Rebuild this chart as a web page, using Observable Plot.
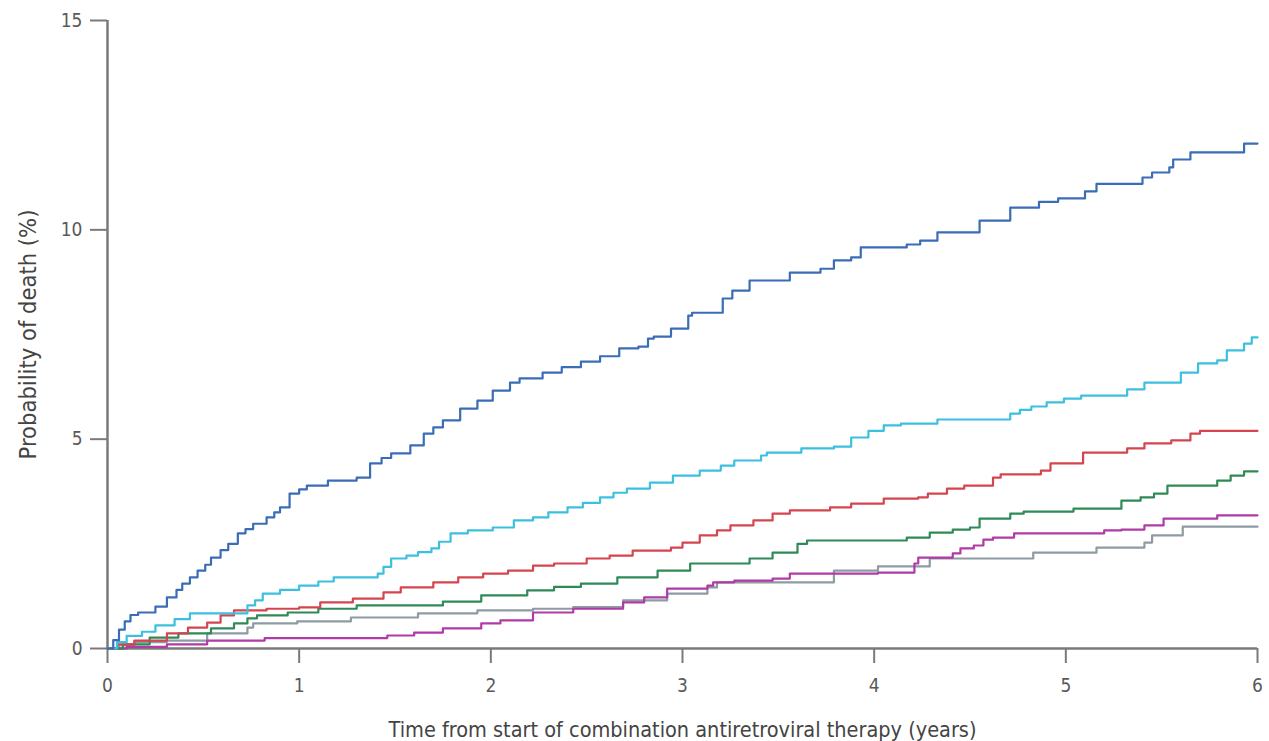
<!DOCTYPE html>
<html>
<head>
<meta charset="utf-8">
<script src="https://cdn.jsdelivr.net/npm/d3@7"></script>
<script src="https://cdn.jsdelivr.net/npm/@observablehq/plot@0.6"></script>
<style>
  html, body { margin: 0; padding: 0; background: #fff; }
  #chart { width: 1269px; height: 741px; overflow: hidden; }
</style>
</head>
<body>
<div id="chart"></div>
<script>
// ---- Data ----
const seriesNames = ["Group F", "Group E", "Group D", "Group C", "Group B", "Group A"];
const seriesColors = ["#8d9ba3", "#b03aa6", "#2f8a57", "#d5454f", "#3cc0df", "#3a6db5"];

const blueT = [0,0.03,0.06,0.09,0.12,0.16,0.25,0.31,0.36,0.39,0.43,0.47,0.51,0.54,0.59,0.63,0.68,0.72,0.76,0.83,0.87,0.9,0.95,1.0,1.04,1.15,1.3,1.37,1.43,1.48,1.58,1.65,1.7,1.75,1.84,1.93,2.01,2.1,2.15,2.27,2.37,2.47,2.57,2.67,2.77,2.82,2.85,2.94,3.03,3.05,3.21,3.26,3.35,3.56,3.72,3.79,3.88,3.93,4.17,4.24,4.33,4.55,4.71,4.86,4.96,5.10,5.16,5.40,5.45,5.54,5.56,5.65,5.93,6.0];
const blueP = [0,0.2,0.45,0.65,0.8,0.86,1.0,1.22,1.4,1.55,1.7,1.86,2.0,2.17,2.35,2.5,2.75,2.85,2.98,3.13,3.25,3.37,3.7,3.8,3.89,4.01,4.08,4.42,4.55,4.66,4.85,5.13,5.28,5.45,5.73,5.92,6.16,6.35,6.45,6.59,6.72,6.85,6.98,7.17,7.21,7.4,7.45,7.64,7.95,8.02,8.36,8.55,8.79,8.98,9.07,9.27,9.34,9.58,9.65,9.74,9.94,10.22,10.53,10.67,10.75,10.92,11.1,11.25,11.37,11.49,11.68,11.85,12.06,12.06];

const cyanT = [0,0.05,0.1,0.18,0.25,0.35,0.43,0.73,0.77,0.81,0.9,1.0,1.1,1.18,1.41,1.44,1.48,1.56,1.62,1.69,1.73,1.79,1.88,2.01,2.12,2.22,2.3,2.4,2.48,2.57,2.64,2.71,2.83,2.95,3.09,3.2,3.27,3.41,3.44,3.62,3.79,3.88,3.97,4.05,4.14,4.33,4.71,4.76,4.82,4.9,4.99,5.08,5.32,5.41,5.6,5.69,5.79,5.84,5.93,5.97,6.0];
const cyanP = [0,0.15,0.3,0.4,0.55,0.7,0.84,1.03,1.15,1.31,1.4,1.5,1.6,1.7,1.79,1.95,2.15,2.22,2.3,2.39,2.55,2.75,2.82,2.89,3.06,3.13,3.25,3.37,3.48,3.61,3.72,3.82,3.96,4.13,4.25,4.37,4.49,4.61,4.68,4.78,4.82,5.04,5.2,5.33,5.37,5.47,5.61,5.7,5.78,5.88,5.97,6.04,6.19,6.35,6.59,6.81,6.88,7.12,7.28,7.43,7.43];

const redT = [0,0.05,0.14,0.31,0.42,0.52,0.59,0.66,0.83,1.0,1.11,1.28,1.44,1.53,1.7,1.83,1.96,2.09,2.22,2.33,2.5,2.62,2.74,2.94,3.0,3.09,3.18,3.25,3.37,3.47,3.56,3.77,3.88,4.05,4.23,4.28,4.38,4.47,4.62,4.66,4.87,4.92,5.09,5.32,5.41,5.55,5.65,5.7,6.0];
const redP = [0,0.1,0.19,0.36,0.5,0.62,0.79,0.91,0.95,0.98,1.1,1.19,1.34,1.46,1.58,1.7,1.79,1.86,1.98,2.03,2.15,2.22,2.34,2.41,2.53,2.7,2.82,2.94,3.06,3.22,3.3,3.37,3.46,3.58,3.61,3.7,3.82,3.89,4.08,4.16,4.25,4.42,4.68,4.78,4.9,4.97,5.13,5.2,5.2];

const greenT = [0,0.08,0.22,0.37,0.54,0.66,0.73,0.78,0.94,1.1,1.3,1.75,1.95,2.19,2.33,2.47,2.66,2.87,3.04,3.35,3.47,3.6,3.65,4.17,4.29,4.41,4.5,4.55,4.71,4.78,5.04,5.29,5.39,5.46,5.53,5.79,5.86,5.93,6.0];
const greenP = [0,0.1,0.26,0.36,0.48,0.6,0.72,0.79,0.86,0.95,1.03,1.12,1.27,1.39,1.47,1.55,1.7,1.86,2.03,2.15,2.29,2.5,2.58,2.65,2.77,2.84,2.89,3.1,3.22,3.27,3.34,3.53,3.61,3.7,3.89,4.01,4.13,4.23,4.23];

const magentaT = [0,0.1,0.31,0.52,0.82,1.46,1.6,1.75,1.95,2.05,2.22,2.43,2.69,2.8,2.92,3.13,3.16,3.27,3.47,3.56,4.02,4.21,4.23,4.41,4.45,4.52,4.57,4.62,4.73,5.2,5.29,5.41,5.51,5.79,6.0];
const magentaP = [0,0.04,0.1,0.19,0.25,0.31,0.38,0.48,0.6,0.67,0.86,0.95,1.1,1.22,1.43,1.5,1.58,1.62,1.67,1.79,1.81,2.03,2.17,2.27,2.39,2.46,2.6,2.65,2.75,2.82,2.84,2.94,3.1,3.18,3.18];

const grayT = [0,0.06,0.14,0.31,0.52,0.73,0.76,0.99,1.27,1.62,1.93,2.22,2.43,2.69,2.92,3.13,3.18,3.79,4.02,4.29,4.83,5.16,5.41,5.45,5.61,6.0];
const grayP = [0,0.08,0.15,0.19,0.36,0.5,0.6,0.65,0.74,0.84,0.91,0.95,0.99,1.15,1.31,1.46,1.58,1.86,1.96,2.15,2.29,2.41,2.53,2.7,2.91,2.91];

const xTicks = [0, 1, 2, 3, 4, 5, 6];
const yTicks = [0, 5, 10, 15];

const xLabel = "Time from start of combination antiretroviral therapy (years)";
const yLabel = "Probability of death (%)";

// ---- Build table ----
const seriesData = [
  [grayT, grayP],
  [magentaT, magentaP],
  [greenT, greenP],
  [redT, redP],
  [cyanT, cyanP],
  [blueT, blueP]
];
const rows = [];
seriesNames.forEach((name, k) => {
  const [T, P] = seriesData[k];
  T.forEach((t, i) => rows.push({series: name, t, p: P[i]}));
});

const FONT = "'Liberation Sans Narrow', 'DejaVu Sans Condensed', 'Roboto', sans-serif";
const axisColor = "#7a7a7a";
const textColor = "#5a5a5a";

const chart = Plot.plot({
  width: 1269,
  height: 741,
  marginLeft: 107,
  marginRight: 12,
  marginTop: 20,
  marginBottom: 93,
  style: {fontFamily: FONT, fontSize: "19px", background: "#fff", overflow: "visible"},
  x: {domain: [0, 6]},
  y: {domain: [0, 15]},
  color: {type: "ordinal", domain: seriesNames, range: seriesColors},
  marks: [
    Plot.axisY({ticks: yTicks, tickSize: 17, tickPadding: 8, stroke: axisColor, strokeWidth: 2, fill: textColor,
      fontSize: 19, tickFormat: d3.format("d"), label: null}),
    Plot.axisX({ticks: xTicks, tickSize: 15, tickPadding: 15, stroke: axisColor, strokeWidth: 2, fill: textColor,
      fontSize: 19, tickFormat: d3.format("d"), label: null}),
    Plot.text([xLabel], {frameAnchor: "bottom", dy: 88, lineAnchor: "bottom", fill: "#444", fontSize: 21.5, text: d => d}),
    Plot.text([yLabel], {frameAnchor: "left", dx: -88, lineAnchor: "top", textAnchor: "middle", rotate: -90, fill: "#444", fontSize: 23.5, text: d => d}),
    Plot.ruleX([0], {y1: 0, y2: 15, stroke: axisColor, strokeWidth: 2.5}),
    Plot.ruleY([0], {x1: 0, x2: 6, stroke: axisColor, strokeWidth: 2.5}),
    Plot.line(rows, {x: "t", y: "p", z: "series", stroke: "series", curve: "step-after", strokeWidth: 2.2})
  ]
});
document.getElementById("chart").appendChild(chart);
</script>
</body>
</html>
